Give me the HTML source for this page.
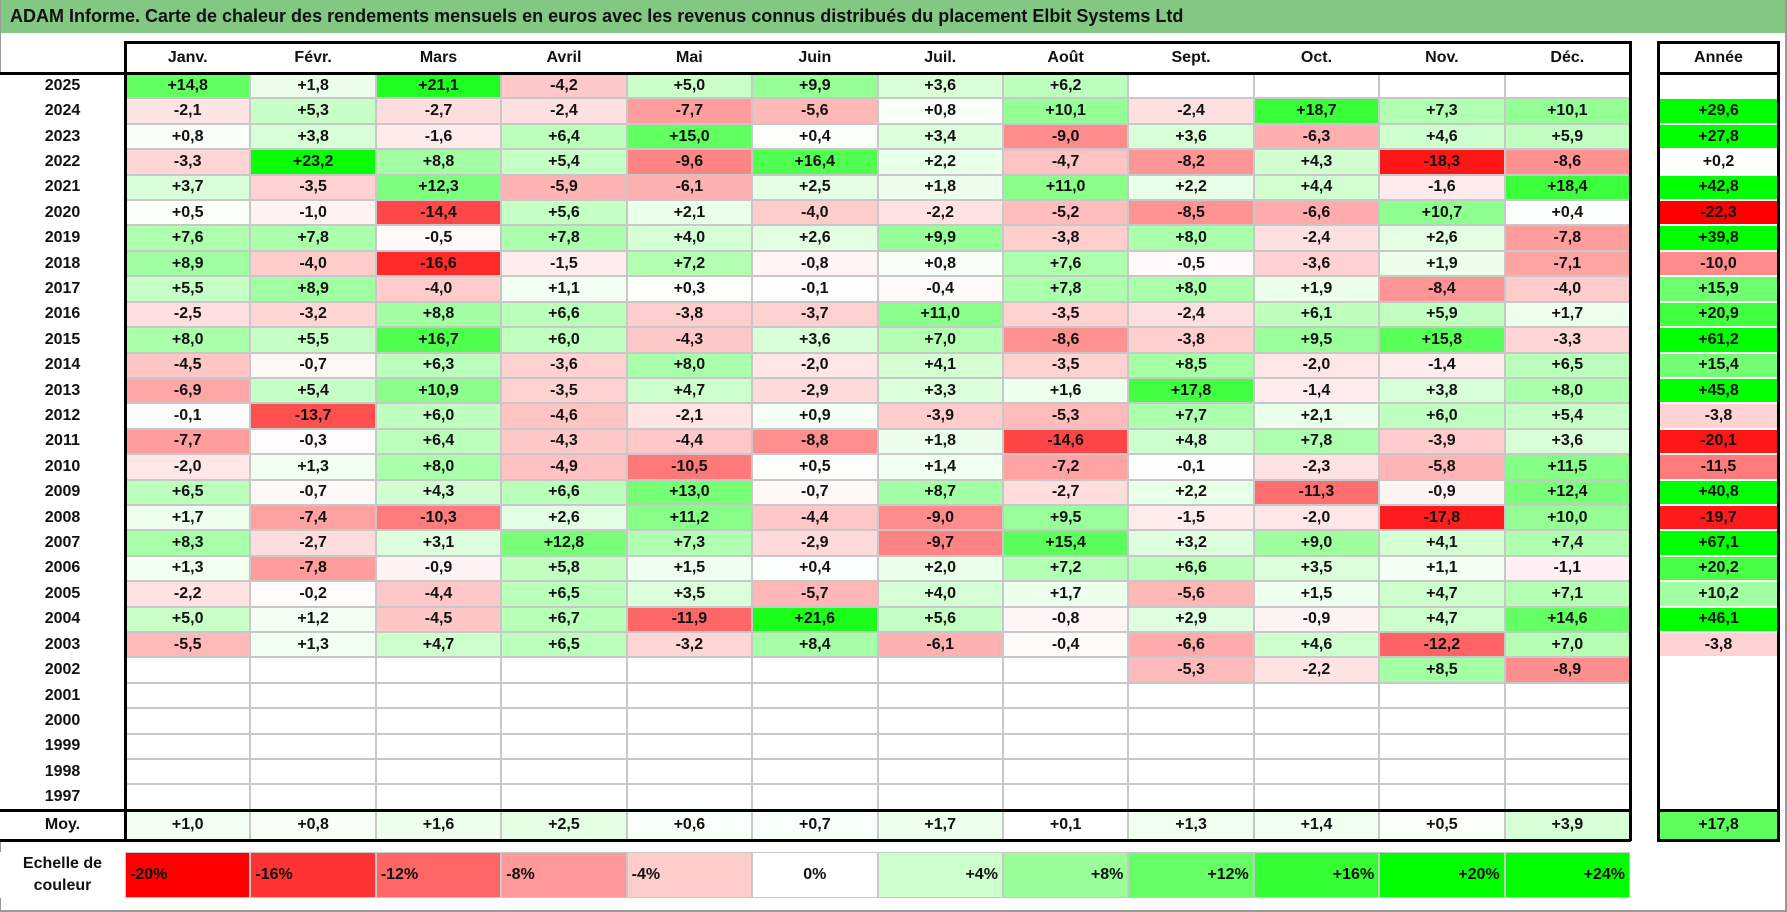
<!DOCTYPE html>
<html><head><meta charset="utf-8">
<style>
body{margin:0;background:#fff;}
#root{position:relative;width:1787px;height:912px;overflow:hidden;font-family:"Liberation Sans",Arial,sans-serif;font-weight:bold;color:#111;}
.c{position:absolute;box-sizing:border-box;display:flex;align-items:center;justify-content:center;font-size:16px;}
.ln{position:absolute;background:#000;}
.g{position:absolute;background:#c8c8c8;}
</style></head><body>
<div id="root">
<div style="position:absolute;left:0;top:0;width:1785px;height:33px;background:#82c882;"></div>
<div style="position:absolute;left:10px;top:6px;font-size:18px;white-space:nowrap;">ADAM Informe. Carte de chaleur des rendements mensuels en euros avec les revenus connus distribués du placement Elbit Systems Ltd</div>
<div style="position:absolute;left:0;top:0;width:1px;height:912px;background:#999"></div>
<div style="position:absolute;left:1785px;top:0;width:2px;height:912px;background:#999"></div>
<div style="position:absolute;left:0;top:910px;width:1787px;height:2px;background:#999"></div>
</div>
<script>
const months=["Janv.","Févr.","Mars","Avril","Mai","Juin","Juil.","Août","Sept.","Oct.","Nov.","Déc."];
const years=[2025,2024,2023,2022,2021,2020,2019,2018,2017,2016,2015,2014,2013,2012,2011,2010,2009,2008,2007,2006,2005,2004,2003,2002,2001,2000,1999,1998,1997];
const N=null;
const monthly=[
[14.8,1.8,21.1,-4.2,5.0,9.9,3.6,6.2,N,N,N,N],
[-2.1,5.3,-2.7,-2.4,-7.7,-5.6,0.8,10.1,-2.4,18.7,7.3,10.1],
[0.8,3.8,-1.6,6.4,15.0,0.4,3.4,-9.0,3.6,-6.3,4.6,5.9],
[-3.3,23.2,8.8,5.4,-9.6,16.4,2.2,-4.7,-8.2,4.3,-18.3,-8.6],
[3.7,-3.5,12.3,-5.9,-6.1,2.5,1.8,11.0,2.2,4.4,-1.6,18.4],
[0.5,-1.0,-14.4,5.6,2.1,-4.0,-2.2,-5.2,-8.5,-6.6,10.7,0.4],
[7.6,7.8,-0.5,7.8,4.0,2.6,9.9,-3.8,8.0,-2.4,2.6,-7.8],
[8.9,-4.0,-16.6,-1.5,7.2,-0.8,0.8,7.6,-0.5,-3.6,1.9,-7.1],
[5.5,8.9,-4.0,1.1,0.3,-0.1,-0.4,7.8,8.0,1.9,-8.4,-4.0],
[-2.5,-3.2,8.8,6.6,-3.8,-3.7,11.0,-3.5,-2.4,6.1,5.9,1.7],
[8.0,5.5,16.7,6.0,-4.3,3.6,7.0,-8.6,-3.8,9.5,15.8,-3.3],
[-4.5,-0.7,6.3,-3.6,8.0,-2.0,4.1,-3.5,8.5,-2.0,-1.4,6.5],
[-6.9,5.4,10.9,-3.5,4.7,-2.9,3.3,1.6,17.8,-1.4,3.8,8.0],
[-0.1,-13.7,6.0,-4.6,-2.1,0.9,-3.9,-5.3,7.7,2.1,6.0,5.4],
[-7.7,-0.3,6.4,-4.3,-4.4,-8.8,1.8,-14.6,4.8,7.8,-3.9,3.6],
[-2.0,1.3,8.0,-4.9,-10.5,0.5,1.4,-7.2,-0.1,-2.3,-5.8,11.5],
[6.5,-0.7,4.3,6.6,13.0,-0.7,8.7,-2.7,2.2,-11.3,-0.9,12.4],
[1.7,-7.4,-10.3,2.6,11.2,-4.4,-9.0,9.5,-1.5,-2.0,-17.8,10.0],
[8.3,-2.7,3.1,12.8,7.3,-2.9,-9.7,15.4,3.2,9.0,4.1,7.4],
[1.3,-7.8,-0.9,5.8,1.5,0.4,2.0,7.2,6.6,3.5,1.1,-1.1],
[-2.2,-0.2,-4.4,6.5,3.5,-5.7,4.0,1.7,-5.6,1.5,4.7,7.1],
[5.0,1.2,-4.5,6.7,-11.9,21.6,5.6,-0.8,2.9,-0.9,4.7,14.6],
[-5.5,1.3,4.7,6.5,-3.2,8.4,-6.1,-0.4,-6.6,4.6,-12.2,7.0],
[N,N,N,N,N,N,N,N,-5.3,-2.2,8.5,-8.9],
[N,N,N,N,N,N,N,N,N,N,N,N],[N,N,N,N,N,N,N,N,N,N,N,N],[N,N,N,N,N,N,N,N,N,N,N,N],[N,N,N,N,N,N,N,N,N,N,N,N],[N,N,N,N,N,N,N,N,N,N,N,N]];
const yearly=[N,29.6,27.8,0.2,42.8,-22.3,39.8,-10.0,15.9,20.9,61.2,15.4,45.8,-3.8,-20.1,-11.5,40.8,-19.7,67.1,20.2,10.2,46.1,-3.8,N,N,N,N,N,N];
const avgMonthly=[1.0,0.8,1.6,2.5,0.6,0.7,1.7,0.1,1.3,1.4,0.5,3.9];
const avgYear=17.8;
const scaleLabels=["-20%","-16%","-12%","-8%","-4%","0%","+4%","+8%","+12%","+16%","+20%","+24%"];
const scaleValues=[-20,-16,-12,-8,-4,0,4,8,12,16,20,24];

const root=document.getElementById('root');
const X0=125,CW=125.42,Y0=73,RH=25.41,YX=1659,YW=119;
const colX=i=>X0+i*CW, rowY=r=>Y0+r*RH;
function color(v,negMax,posMax){
  if(v===null) return '#fff';
  let t; if(v<0){t=Math.min(1,-v/negMax);const k=Math.round(255*(1-t));return `rgb(255,${k},${k})`;}
  t=Math.min(1,v/posMax);const k=Math.round(255*(1-t));return `rgb(${k},255,${k})`;
}
const fmt=v=>v===null?'':(v>=0?'+':'')+v.toFixed(1).replace('.',',');
function cell(x,y,w,h,txt,bg,name,extra){
  const d=document.createElement('div');
  d.className='c';
  d.style.cssText=`left:${x}px;top:${y}px;width:${w}px;height:${h}px;background:${bg};`+(extra||'');
  d.textContent=txt;
  
  
  root.appendChild(d);return d;
}
function line(x,y,w,h,cls,name){
  const d=document.createElement('div');d.className=cls;
  d.style.cssText=`left:${x}px;top:${y}px;width:${w}px;height:${h}px;`;
  
  
  root.appendChild(d);
}
line(X0,Y0,12*CW,years.length*RH+30,'g','grid-bg');
months.forEach((m,i)=>cell(colX(i)+1,42,CW-2,31,m,'#fff','month-header'));
cell(YX,42,YW,31,'Année','#fff','year-header');
years.forEach((yr,r)=>{
  cell(0,rowY(r),X0,RH,String(yr),'#fff','year-label');
  monthly[r].forEach((v,i)=>cell(colX(i)+1,rowY(r)+1,CW-2,RH-2,fmt(v),color(v,20,24),'heatmap-cell'));
  cell(YX,rowY(r)+1,YW,RH-2,fmt(yearly[r]),color(yearly[r],22,28),'annual-cell');
});
const MY=810,MH=30;
cell(0,MY,X0,MH,'Moy.','#fff','average-label');
avgMonthly.forEach((v,i)=>cell(colX(i)+1,MY+1,CW-2,MH-2,fmt(v),color(v,20,24),'average-cell'));
cell(YX,MY,YW,MH,fmt(avgYear),color(avgYear,22,28),'annual-average-cell');
cell(0,852,X0,46,'Echelle de\ncouleur','#fff','color-scale-label','white-space:pre;text-align:center;line-height:22px;');
line(X0,852,12*CW,46,'g','scale-bg');
scaleValues.forEach((v,i)=>{
  const al=v<0?'justify-content:flex-start;padding-left:4px;':(v>0?'justify-content:flex-end;padding-right:4px;':'');
  cell(colX(i)+1,853,CW-2,44,scaleLabels[i],color(v,20,20),'scale-swatch',al);
});
const B=3, R=X0+12*CW;
line(X0-1,41,R-X0+2,B,'ln','header-top-border');
line(0,72,R+1,B,'ln','header-bottom-border');
line(0,MY-1,R+1,B,'ln','average-top-border');
line(0,MY+MH-1,R+1,B,'ln','average-bottom-border');
line(X0-1,41,B,MY+MH-40,'ln','table-left-border');
line(R-1,41,B,MY+MH-40,'ln','table-right-border');
line(YX-2,41,B,MY+MH-39,'ln','year-left-border');
line(YX+YW-1,41,B,MY+MH-39,'ln','year-right-border');
line(YX-2,41,YW+2,B,'ln','year-top-border');
line(YX-2,72,YW+2,B,'ln','year-header-border');
line(YX-2,MY-1,YW+2,B,'ln','year-avg-top-border');
line(YX-2,MY+MH-1,YW+2,B,'ln','year-avg-bottom-border');
</script>
</body></html>
